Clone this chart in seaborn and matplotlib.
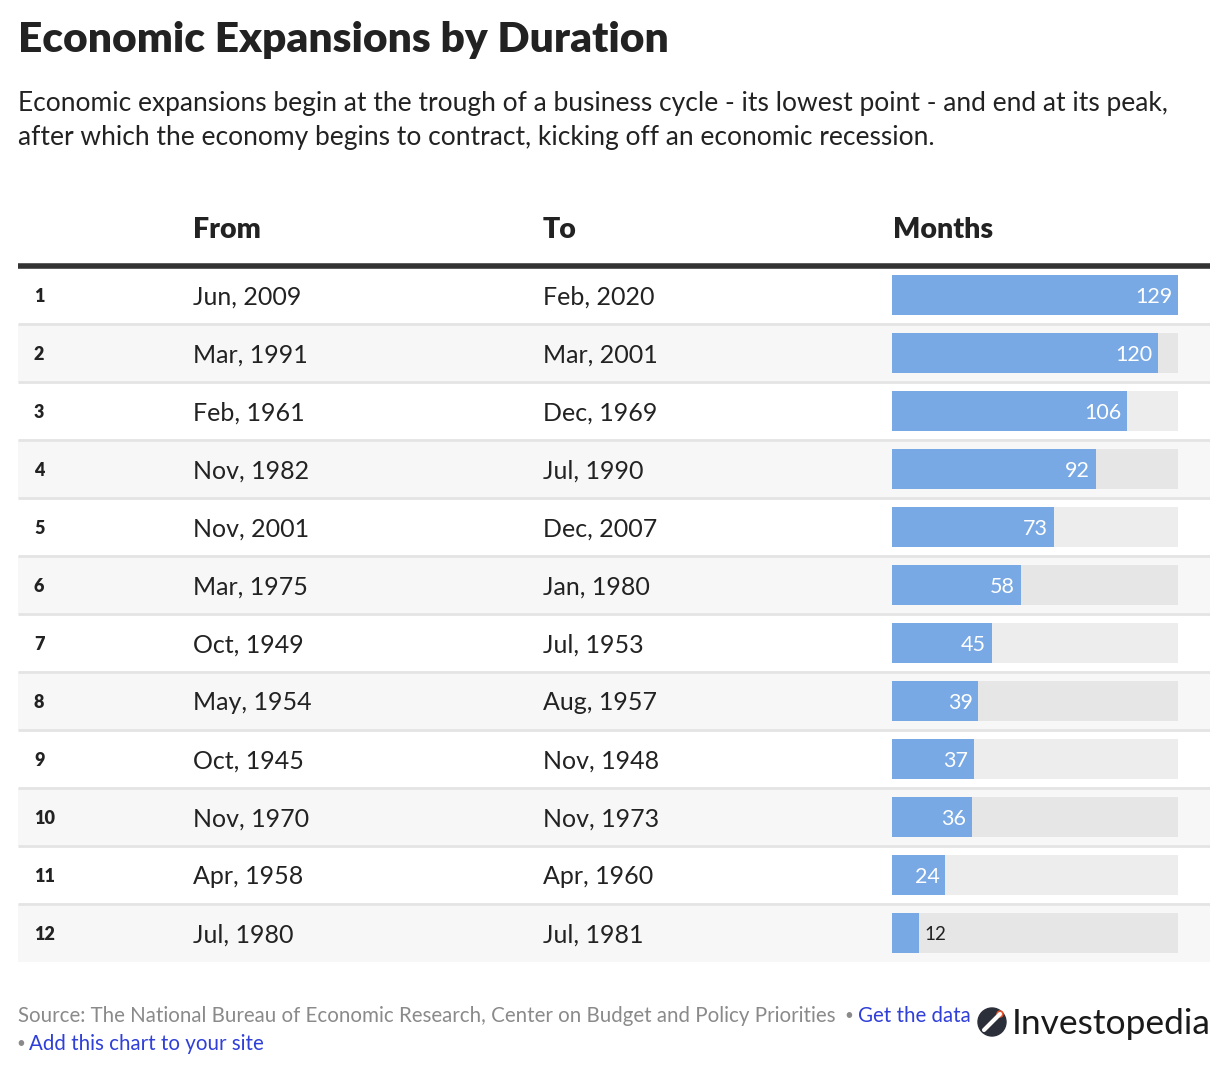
import pandas as pd
import matplotlib.pyplot as plt
import seaborn as sns
from matplotlib.patches import Circle

# table data
ranks = [str(i) for i in range(1, 13)]
from_dates = ['Jun, 2009', 'Mar, 1991', 'Feb, 1961', 'Nov, 1982', 'Nov, 2001', 'Mar, 1975',
              'Oct, 1949', 'May, 1954', 'Oct, 1945', 'Nov, 1970', 'Apr, 1958', 'Jul, 1980']
to_dates = ['Feb, 2020', 'Mar, 2001', 'Dec, 1969', 'Jul, 1990', 'Dec, 2007', 'Jan, 1980',
            'Jul, 1953', 'Aug, 1957', 'Nov, 1948', 'Nov, 1973', 'Apr, 1960', 'Jul, 1981']
months = [129, 120, 106, 92, 73, 58, 45, 39, 37, 36, 24, 12]

df = pd.DataFrame({'rank': ranks, 'from': from_dates, 'to': to_dates, 'months': months})
df['full'] = max(months)
df['shade'] = ['odd' if i % 2 == 0 else 'even' for i in range(len(df))]

sns.set_style('white')
plt.rcParams['font.family'] = ['Lato', 'DejaVu Sans']

W, H = 1226, 1074
fig = plt.figure(figsize=(W / 100, H / 100), dpi=100)


def fx(x):
    return x / W


def fy(y):
    return 1 - y / H


DARK = '#222222'

# title and subtitle
fig.text(fx(18), fy(40), 'Economic Expansions by Duration', fontsize=30.5, fontweight='heavy',
         color=DARK, va='center')
fig.text(fx(18), fy(104), 'Economic expansions begin at the trough of a business cycle - its lowest point - and end at its peak,',
         fontsize=19, color=DARK, va='center')
fig.text(fx(18), fy(138), 'after which the economy begins to contract, kicking off an economic recession.',
         fontsize=19, color=DARK, va='center')

# table area
top, bottom = 266, 962
left, right = 18, 1210
ax_t = fig.add_axes([fx(left), fy(bottom), fx(right - left), (bottom - top) / H])
ax_t.set_xlim(0, 1)
ax_t.set_ylim(len(df) - 0.5, -0.5)
ax_t.axis('off')
for i in range(len(df)):
    if i % 2 == 1:
        ax_t.axhspan(i - 0.5, i + 0.5, color='#f7f7f7', lw=0, zorder=0)
    if i < len(df) - 1:
        ax_t.axhline(i + 0.5, color='#e4e4e4', lw=2, zorder=1, solid_capstyle='butt')
ax_t.axhline(-0.5, color='#333333', lw=4, zorder=2, clip_on=False, solid_capstyle='butt')


def tx(x):
    return (x - left) / (right - left)


for i, row in df.iterrows():
    ax_t.text(tx(34), i + 0.03, row['rank'], fontsize=13, fontweight='heavy', color=DARK, va='center')
    ax_t.text(tx(193), i + 0.03, row['from'], fontsize=18, color=DARK, va='center')
    ax_t.text(tx(543), i + 0.03, row['to'], fontsize=18, color=DARK, va='center')

# column headers
for x, label in [(193, 'From'), (543, 'To'), (893, 'Months')]:
    fig.text(fx(x), fy(230), label, fontsize=20.5, fontweight='heavy', color=DARK, va='center')

# bar column
bl, br = 892, 1178
ax_b = fig.add_axes([fx(bl), fy(bottom), fx(br - bl), (bottom - top) / H])
ax_b.patch.set_alpha(0)
sns.barplot(data=df, x='full', y='rank', hue='shade', palette={'odd': '#ededed', 'even': '#e6e6e6'},
            dodge=False, legend=False, width=0.68, linewidth=0, ax=ax_b, order=ranks)
sns.barplot(data=df, x='months', y='rank', color='#78a9e4', saturation=1, width=0.68, linewidth=0,
            ax=ax_b, order=ranks)
ax_b.set_xlim(0, max(months))
ax_b.set_ylim(len(df) - 0.5, -0.5)
ax_b.axis('off')
for i, v in enumerate(months):
    if v > 20:
        ax_b.text(v - 2.6, i + 0.03, str(v), ha='right', va='center', color='white', fontsize=15.5)
    else:
        ax_b.text(v + 2.6, i + 0.03, str(v), ha='left', va='center', color=DARK, fontsize=13.5)

# footer
GREY = '#8a8a8a'
BLUE = '#2f3fd8'
fig.text(fx(18), fy(1016), 'Source: The National Bureau of Economic Research, Center on Budget and Policy Priorities',
         fontsize=14.8, color=GREY, va='center')
fig.text(fx(849), fy(1016), '•', fontsize=11, color=GREY, va='center', ha='center')
fig.text(fx(858), fy(1016), 'Get the data', fontsize=14.8, color=BLUE, va='center')
fig.text(fx(21), fy(1044), '•', fontsize=11, color=GREY, va='center', ha='center')
fig.text(fx(29), fy(1044), 'Add this chart to your site', fontsize=14.8, color=BLUE, va='center')

# logo
ax_l = fig.add_axes([0, 0, 1, 1], zorder=-1)
ax_l.set_xlim(0, W)
ax_l.set_ylim(H, 0)
ax_l.axis('off')
ax_l.add_patch(Circle((992, 1022), 14, color='#2b2f3a'))
ax_l.plot([984, 1000], [1030, 1014], color='white', lw=3)
ax_l.add_patch(Circle((1000, 1014), 3, color='#e8552d'))
fig.text(fx(1012), fy(1024), 'Investopedia', fontsize=25.5, color='#1a1a1a', va='center')

fig.savefig('out.png', dpi=100, facecolor='white')
